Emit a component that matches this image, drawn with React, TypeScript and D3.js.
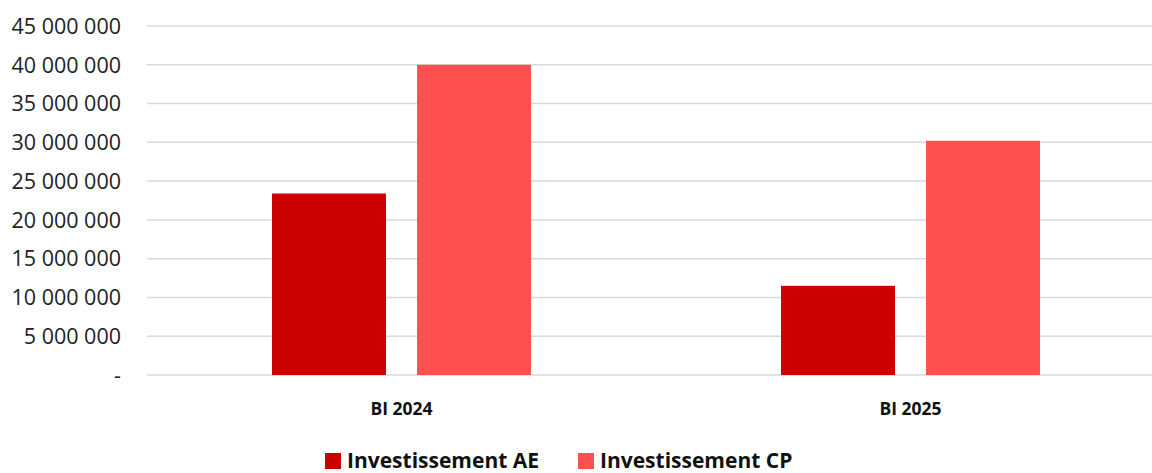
import React from "react";
import * as d3 from "d3";

const categories = ["BI 2024", "BI 2025"];
const seriesNames = ["Investissement AE", "Investissement CP"];
const aeValues = [23400000, 11500000];
const cpValues = [40000000, 30200000];
const yTicks = [0, 5000000, 10000000, 15000000, 20000000, 25000000, 30000000, 35000000, 40000000, 45000000];
const colors = ["#CC0000", "#FF5050"];

const W = 1152;
const H = 473;

function fmt(v: number): string {
  if (v === 0) return "-";
  return d3.format(",")(v).replace(/,/g, " ");
}

export default function App() {
  const y = d3.scaleLinear().domain([0, 45000000]).range([375, 26]);
  const x0 = d3.scaleBand<string>().domain(categories).range([147, 1165]).paddingInner(0).paddingOuter(0);
  const groupW = 259;
  const x1 = d3.scaleBand<string>().domain(seriesNames).range([0, groupW]).paddingInner(0.214).paddingOuter(0);
  const series = [aeValues, cpValues];
  const font = "'Open Sans', 'Noto Sans', sans-serif";

  return (
    <svg width={W} height={H} style={{ position: "absolute", left: 0, top: 0, background: "#fff" }}>
      {yTicks.map((t) => (
        <g key={t}>
          <line x1={147} x2={W} y1={y(t)} y2={y(t)} stroke="#d9d9d9" strokeWidth={1.5} />
          <text x={121} y={y(t)} dy="0.36em" textAnchor="end" fontFamily={font} fontSize={21.5} fill="#222">
            {fmt(t)}
          </text>
        </g>
      ))}
      {categories.map((c, ci) => {
        const gx = (x0(c) as number) + (x0.bandwidth() - groupW) / 2;
        return (
          <g key={c}>
            {seriesNames.map((s, si) => {
              const v = series[si][ci];
              return (
                <rect
                  key={s}
                  x={gx + (x1(s) as number)}
                  y={y(v)}
                  width={x1.bandwidth()}
                  height={y(0) - y(v)}
                  fill={colors[si]}
                />
              );
            })}
            <text
              x={(x0(c) as number) + x0.bandwidth() / 2}
              y={415}
              textAnchor="middle"
              fontFamily={font}
              fontWeight="bold"
              fontSize={17.5}
              fill="#111"
            >
              {c}
            </text>
          </g>
        );
      })}
      {seriesNames.map((s, si) => {
        const lx = si === 0 ? 325 : 578;
        return (
          <g key={s}>
            <rect x={lx} y={453} width={16} height={16} fill={colors[si]} />
            <text x={lx + 22} y={468} fontFamily={font} fontWeight="bold" fontSize={21} fill="#111">
              {s}
            </text>
          </g>
        );
      })}
    </svg>
  );
}
